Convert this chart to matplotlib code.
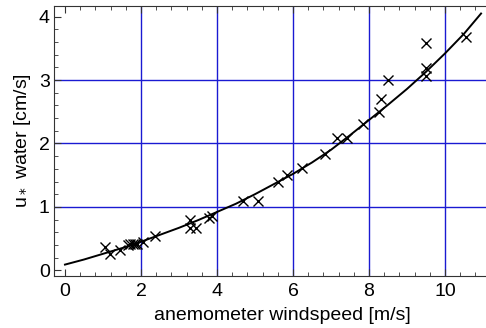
import matplotlib
matplotlib.use("Agg")
import matplotlib.pyplot as plt
from matplotlib.ticker import MultipleLocator

plt.rcParams['font.family'] = ['Liberation Sans', 'DejaVu Sans']

# measured points (anemometer windspeed [m/s], u* water [cm/s])
wind = [1.05, 1.18, 1.45, 1.66, 1.72, 1.78, 1.84, 1.90, 2.05, 2.37,
        3.29, 3.29, 3.45, 3.78, 3.86, 4.68, 5.08, 5.60, 5.84, 6.24,
        6.84, 7.16, 7.42, 7.84, 8.26, 8.32, 8.50, 9.50, 9.50, 9.50, 10.55]
ustar = [0.37, 0.26, 0.32, 0.40, 0.41, 0.41, 0.42, 0.41, 0.45, 0.54,
         0.79, 0.67, 0.67, 0.83, 0.85, 1.09, 1.09, 1.39, 1.50, 1.61,
         1.83, 2.09, 2.09, 2.30, 2.50, 2.70, 3.00, 3.06, 3.19, 3.58, 3.68]

# fitted curve
fit_x = [0, 0.5, 1, 1.5, 2, 2.5, 3, 3.5, 4, 4.5, 5, 5.5, 6, 6.5, 7,
         7.5, 8, 8.5, 9, 9.5, 10, 10.5, 10.95]
fit_y = [0.09, 0.17, 0.26, 0.35, 0.45, 0.56, 0.67, 0.79, 0.92, 1.05, 1.20,
         1.36, 1.52, 1.70, 1.90, 2.13, 2.37, 2.61, 2.86, 3.13, 3.42, 3.73, 4.05]

# grid only at the inner major ticks
grid_x = [2, 4, 6, 8, 10]
grid_y = [1, 2, 3]

fig = plt.figure(figsize=(4.86, 3.28), dpi=100)
ax = fig.add_axes([0.111, 0.1585, 0.889, 0.8235])

for gx in grid_x:
    ax.axvline(gx, color="#1a1ad2", linewidth=1.0, zorder=0)
for gy in grid_y:
    ax.axhline(gy, color="#1a1ad2", linewidth=1.0, zorder=0)

ax.plot(fit_x, fit_y, color="black", linewidth=1.4)
ax.plot(wind, ustar, "x", color="black", markersize=7, markeredgewidth=1.0)

ax.set_xlim(-0.29, 11.08)
ax.set_ylim(-0.09, 4.17)
ax.xaxis.set_major_locator(MultipleLocator(2))
ax.xaxis.set_minor_locator(MultipleLocator(0.4))
ax.yaxis.set_major_locator(MultipleLocator(1))
ax.yaxis.set_minor_locator(MultipleLocator(0.2))
ax.tick_params(which="both", direction="in", top=True, right=False,
               labelsize=14, color="#333333")
ax.tick_params(which="major", length=5)
ax.tick_params(which="minor", length=3)
ax.tick_params(axis="x", pad=5)
ax.tick_params(axis="y", pad=3)
ax.spines["right"].set_visible(False)
for s in ["left", "bottom", "top"]:
    ax.spines[s].set_color("#333333")

ax.set_xlabel("anemometer windspeed [m/s]", fontsize=14)
ax.xaxis.set_label_coords(0.528, -0.115)
ax.set_ylabel("u$_*$ water [cm/s]", fontsize=14, labelpad=4)

fig.savefig("out.png", dpi=100)
